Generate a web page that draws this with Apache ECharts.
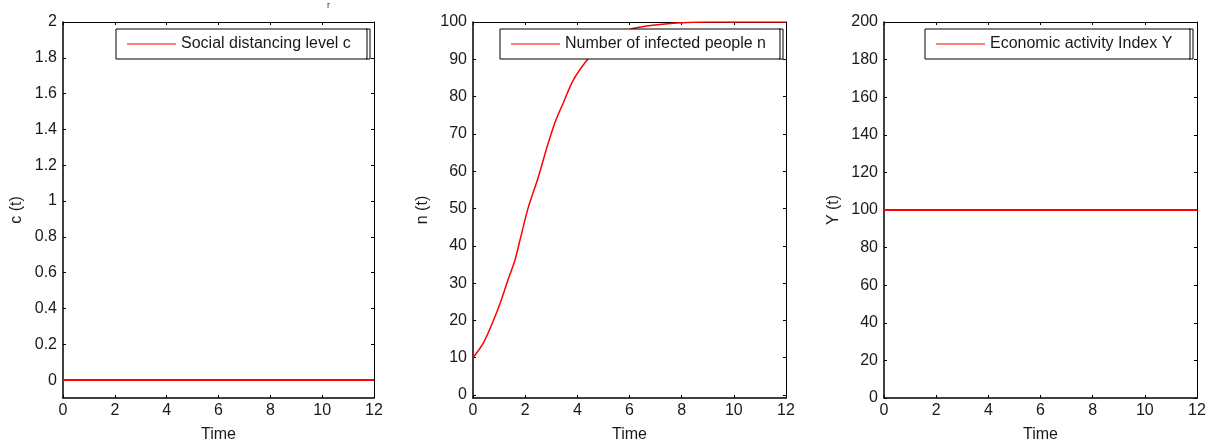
<!DOCTYPE html>
<html>
<head>
<meta charset="utf-8">
<script src="https://cdn.jsdelivr.net/npm/echarts@6/dist/echarts.min.js"></script>
<style>
html,body{margin:0;padding:0;background:#fff;}
#chart{width:1211px;height:448px;}
</style>
</head>
<body>
<div id="chart"></div>
<script>
// ---- data ----
const timeTicks = [0, 2, 4, 6, 8, 10, 12];
const cTicks = [0, 0.2, 0.4, 0.6, 0.8, 1, 1.2, 1.4, 1.6, 1.8, 2];
const nTicks = [0, 10, 20, 30, 40, 50, 60, 70, 80, 90, 100];
const yTicks = [0, 20, 40, 60, 80, 100, 120, 140, 160, 180, 200];

const cTime = [0, 2, 4, 6, 8, 10, 12];
const cValues = [0, 0, 0, 0, 0, 0, 0];

const nTime = [0, 0.4, 0.72, 1.04, 1.3, 1.61, 1.8, 2.12, 2.5, 2.83, 3.14, 3.46, 3.85, 4.42, 5, 5.77, 6.66, 7.81, 9, 10, 11, 12];
const nValues = [10, 14, 18.9, 24.6, 30, 36.2, 41.5, 50.3, 58.3, 66.3, 73, 78.3, 84.5, 90.2, 94.5, 97.5, 98.9, 99.7, 100, 100, 100, 100];

const yTime = [0, 2, 4, 6, 8, 10, 12];
const yValues = [100, 100, 100, 100, 100, 100, 100];

const seriesNames = ['Social distancing level c', 'Number of infected people n', 'Economic activity Index Y'];
const yNames = ['c (t)', 'n (t)', 'Y (t)'];
const xName = 'Time';

// ---- layout ----
const FONT = '"Liberation Sans", Arial, sans-serif';
const FS = 16;
const TXT = '#1a1a1a';
const grids = [
  {left: 63, top: 22, width: 311, height: 376},
  {left: 473, top: 22, width: 313, height: 376},
  {left: 884, top: 22, width: 313, height: 376}
];
const yRanges = [
  {min: -0.1, max: 2, ticks: cTicks, gap: 38},
  {min: -0.8, max: 100, ticks: nTicks, gap: 42},
  {min: 0, max: 200, ticks: yTicks, gap: 42}
];
const legendPos = [
  {box: [116, 29, 251, 30], left: 127},
  {box: [500, 29, 280, 30], left: 511},
  {box: [925, 29, 265, 30], left: 936}
];

const xAxes = [], yAxes = [], legends = [], graphics = [];
grids.forEach((g, i) => {
  xAxes.push({
    type: 'value', gridIndex: i, position: 'bottom', min: 0, max: 12, interval: 2,
    name: xName, nameLocation: 'middle', nameGap: 29,
    nameTextStyle: {fontFamily: FONT, fontSize: FS, color: TXT},
    axisLine: {show: true, onZero: false, lineStyle: {color: '#000', width: 1.5}},
    axisTick: {show: true, inside: true, length: 3, lineStyle: {color: '#000'}},
    axisLabel: {show: true, margin: 5, fontFamily: FONT, fontSize: FS, color: TXT},
    splitLine: {show: false}
  });
  xAxes.push({
    type: 'value', gridIndex: i, position: 'top', min: 0, max: 12, interval: 2,
    axisLine: {show: true, onZero: false, lineStyle: {color: '#000', width: 1}},
    axisTick: {show: true, inside: true, length: 3, lineStyle: {color: '#000'}},
    axisLabel: {show: false}, splitLine: {show: false}
  });
  const r = yRanges[i];
  yAxes.push({
    type: 'value', gridIndex: i, position: 'left', min: r.min, max: r.max,
    name: yNames[i], nameLocation: 'middle', nameGap: r.gap,
    nameTextStyle: {fontFamily: FONT, fontSize: FS, color: TXT},
    axisLine: {show: true, onZero: false, lineStyle: {color: '#000', width: 1.5}},
    axisTick: {show: true, inside: true, length: 3, customValues: r.ticks, lineStyle: {color: '#000'}},
    axisLabel: {show: true, margin: 6, customValues: r.ticks, fontFamily: FONT, fontSize: FS, color: TXT,
      formatter: v => String(+(+v).toFixed(1))},
    splitLine: {show: false}
  });
  yAxes.push({
    type: 'value', gridIndex: i, position: 'right', min: r.min, max: r.max,
    axisLine: {show: true, onZero: false, lineStyle: {color: '#000', width: 1}},
    axisTick: {show: true, inside: true, length: 3, customValues: r.ticks, lineStyle: {color: '#000'}},
    axisLabel: {show: false}, splitLine: {show: false}
  });
  const lp = legendPos[i];
  const bx = lp.box[0], by = lp.box[1], bw = lp.box[2], bh = lp.box[3];
  graphics.push({
    type: 'rect', z: 10,
    shape: {x: bx, y: by, width: bw, height: bh},
    style: {fill: '#fff', stroke: '#000', lineWidth: 1}
  });
  graphics.push({
    type: 'polyline', z: 11,
    shape: {points: [[bx + bw - 1, by], [bx + bw + 3, by], [bx + bw + 3, by + bh], [bx + bw - 1, by + bh]]},
    style: {stroke: '#000', lineWidth: 1, fill: null}
  });
  legends.push({
    data: [seriesNames[i]], left: lp.left, top: 36, padding: 0, z: 20,
    icon: 'rect', itemWidth: 49, itemHeight: 1, selectedMode: false,
    textStyle: {fontFamily: FONT, fontSize: FS, color: TXT}
  });
});
graphics.push({
  type: 'text', left: 327, top: 1, z: 10,
  style: {text: 'r', font: '9px ' + FONT, fill: '#333'}
});

const mk = (t, v) => t.map((x, k) => [x, v[k]]);
const series = [
  {name: seriesNames[0], type: 'line', xAxisIndex: 0, yAxisIndex: 0, data: mk(cTime, cValues),
   showSymbol: false, symbol: 'none', lineStyle: {color: '#ff0000', width: 2}, itemStyle: {color: '#ff0000'}, z: 2},
  {name: seriesNames[1], type: 'line', xAxisIndex: 2, yAxisIndex: 2, data: mk(nTime, nValues),
   showSymbol: false, symbol: 'none', smooth: 0.3, lineStyle: {color: '#ff0000', width: 1.5}, itemStyle: {color: '#ff0000'}, z: 2},
  {name: seriesNames[2], type: 'line', xAxisIndex: 4, yAxisIndex: 4, data: mk(yTime, yValues),
   showSymbol: false, symbol: 'none', lineStyle: {color: '#ff0000', width: 2}, itemStyle: {color: '#ff0000'}, z: 2}
];

const chart = echarts.init(document.getElementById('chart'), null, {renderer: 'canvas'});
chart.setOption({
  animation: false,
  backgroundColor: '#fff',
  grid: grids.map(g => Object.assign({containLabel: false}, g)),
  xAxis: xAxes,
  yAxis: yAxes,
  legend: legends,
  graphic: graphics,
  series: series
});
</script>
</body>
</html>
